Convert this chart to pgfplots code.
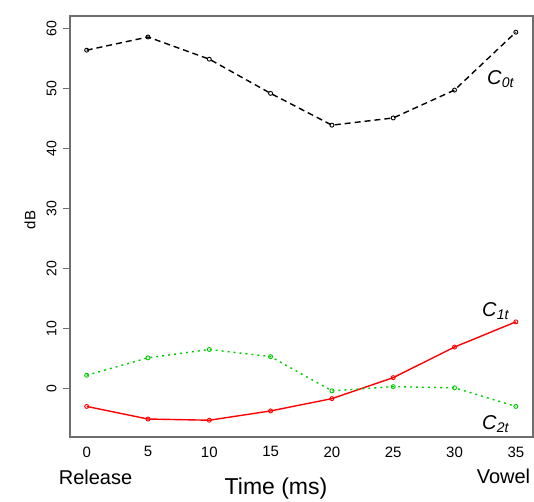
\documentclass[border=0pt]{standalone}
\usepackage{fontspec}
\setmainfont{Liberation Sans}
\usepackage{pgfplots}
\pgfplotsset{compat=1.18}
\definecolor{green3}{RGB}{0,205,0}
\definecolor{framegray}{RGB}{110,110,110}
\newcommand{\fs}[1]{\fontsize{#1}{#1}\selectfont}
\begin{document}
\begin{tikzpicture}[x=1pt,y=1pt]
\path[use as bounding box] (0,0) rectangle (534,-501);
\begin{axis}[
  at={(70pt,-437pt)}, anchor=south west,
  scale only axis, width=463pt, height=421pt,
  xmin=-1.36, xmax=36.4, ymin=-8.1, ymax=62.1,
  axis line style={framegray, line width=1.3pt},
  tick align=outside,
  xtick pos=bottom, ytick pos=left,
  major tick length=7pt, minor tick length=4pt,
  ytick={0,10,20,30,40,50,60},
  yticklabel style={rotate=90, font=\fs{14}, anchor=south},
  yticklabel shift=3pt,
  y tick style={framegray, line width=1pt},
  xtick=\empty,
  minor xtick={2.5,7.5,12.5,17.5,22.5,27.5,32.5},
  x tick style={framegray, line width=1pt},
  extra x ticks={0,5,10,15,20,25,30,35},
  extra x tick labels={0,5,10,15,20,25,30,35},
  extra x tick style={major tick length=0pt, xticklabel style={font=\fs{15}, yshift=-6pt}},
  /pgf/number format/assume math mode=true,
  clip=false,
]
% C0t
\addplot[black, line width=1.4pt, dash pattern=on 6pt off 4pt, mark=o, mark size=2pt, mark options={solid, line width=0.9pt}]
coordinates {(0,56.4) (5,58.6) (10,54.9) (15,49.2) (20,43.9) (25,45.1) (30,49.75) (35,59.4)};
% C1t
\addplot[red, line width=1.4pt, mark=o, mark size=2pt, mark options={solid, line width=0.9pt}]
coordinates {(0,-3.0) (5,-5.1) (10,-5.3) (15,-3.75) (20,-1.7) (25,1.8) (30,6.9) (35,11.1)};
% C2t
\addplot[green3, line width=1.4pt, dash pattern=on 2pt off 4pt, mark=o, mark size=2pt, mark options={solid, line width=0.9pt}]
coordinates {(0,2.2) (5,5.1) (10,6.5) (15,5.3) (20,-0.4) (25,0.3) (30,0.1) (35,-3.0)};
\end{axis}
\node[rotate=90, font=\fs{15}] at (30,-220) {dB};
\node[font=\fs{20}] at (95.5,-477) {Release};
\node[font=\fs{20}] at (503.5,-476.5) {Vowel};
\node[font=\fs{23}] at (276,-489) {Time (ms)};
\node[anchor=west, font=\fs{20}, inner sep=0pt] at (487,-79) {\textit{C}\textsubscript{\textit{0t}}};
\node[anchor=west, font=\fs{20}, inner sep=0pt] at (482,-311) {\textit{C}\textsubscript{\textit{1t}}};
\node[anchor=west, font=\fs{20}, inner sep=0pt] at (482,-424) {\textit{C}\textsubscript{\textit{2t}}};
\end{tikzpicture}
\end{document}
